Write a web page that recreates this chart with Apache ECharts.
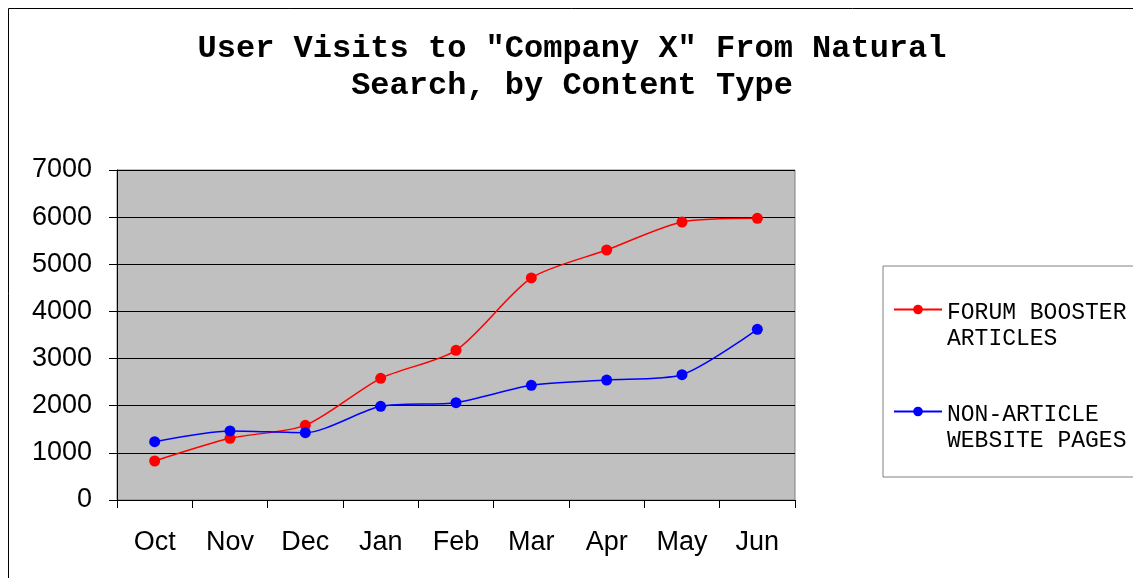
<!DOCTYPE html>
<html>
<head>
<meta charset="utf-8">
<script src="https://cdn.jsdelivr.net/npm/echarts@6/dist/echarts.min.js"></script>
<style>
html,body{margin:0;padding:0;background:#fff;}
#chart{width:1133px;height:578px;}
</style>
</head>
<body>
<div id="chart"></div>
<script>
const titleText = 'User Visits to "Company X" From Natural\nSearch, by Content Type';
const categories = ['Oct','Nov','Dec','Jan','Feb','Mar','Apr','May','Jun'];
const forumName = 'FORUM BOOSTER\nARTICLES';
const forumValues = [827, 1308, 1584, 2581, 3175, 4710, 5303, 5897, 5975];
const pagesName = 'NON-ARTICLE\nWEBSITE PAGES';
const pagesValues = [1237, 1464, 1428, 1987, 2065, 2432, 2545, 2658, 3620];
const yTicks = [0, 1000, 2000, 3000, 4000, 5000, 6000, 7000];

const chart = echarts.init(document.getElementById('chart'), null, {renderer: 'canvas'});
chart.setOption({
  animation: false,
  backgroundColor: '#ffffff',
  graphic: [{
    type: 'rect', z: -10, silent: true,
    shape: {x: 8.5, y: 8.5, width: 1300, height: 800},
    style: {fill: 'none', stroke: '#000000', lineWidth: 1}
  }],
  title: {
    text: titleText,
    left: 567, textAlign: 'center', top: 25,
    textStyle: {fontFamily: 'Liberation Mono', fontWeight: 'bold', fontSize: 32, lineHeight: 37, color: '#000'}
  },
  legend: {
    orient: 'vertical',
    left: 883, top: 266,
    padding: [6, 30, 25, 10],
    itemWidth: 48, itemHeight: 12, itemGap: 24,
    borderColor: '#808080', borderWidth: 1,
    backgroundColor: '#ffffff',
    formatter: function (name) {
      return '{g|}\n' + name.split('\n').map(function (l) { return '{t|' + l + '}'; }).join('\n');
    },
    textStyle: {
      fontFamily: 'Liberation Mono', fontSize: 23, color: '#000',
      rich: {
        g: {height: 32, fontSize: 23, fontFamily: 'Liberation Mono'},
        t: {lineHeight: 26, fontSize: 23, fontFamily: 'Liberation Mono', color: '#000'}
      }
    },
    data: [forumName, pagesName]
  },
  grid: {
    left: 117, top: 170, width: 678, height: 330,
    show: true, backgroundColor: '#C0C0C0', borderColor: '#808080', borderWidth: 1
  },
  xAxis: {
    type: 'category', data: categories, boundaryGap: true,
    axisLine: {lineStyle: {color: '#000', width: 1}},
    axisTick: {show: true, length: 8, interval: 0, lineStyle: {color: '#000'}},
    axisLabel: {interval: 0, margin: 29, fontFamily: 'Liberation Sans', fontSize: 27, color: '#000'}
  },
  yAxis: {
    type: 'value', min: yTicks[0], max: yTicks[yTicks.length - 1], interval: 1000,
    axisLine: {show: true, lineStyle: {color: '#000', width: 1}},
    axisTick: {show: true, length: 8, lineStyle: {color: '#000'}},
    axisLabel: {margin: 25, fontFamily: 'Liberation Sans', fontSize: 27, color: '#000',
      formatter: function (v) { return String(v); }},
    splitLine: {show: true, lineStyle: {color: '#000', width: 1}}
  },
  series: [
    {
      name: forumName, type: 'line', data: forumValues, smooth: 0.25,
      symbol: 'circle', symbolSize: 11,
      lineStyle: {color: '#FF0000', width: 1.5},
      itemStyle: {color: '#FF0000'}
    },
    {
      name: pagesName, type: 'line', data: pagesValues, smooth: 0.25,
      symbol: 'circle', symbolSize: 11,
      lineStyle: {color: '#0000FF', width: 1.5},
      itemStyle: {color: '#0000FF'}
    }
  ]
});
</script>
</body>
</html>
